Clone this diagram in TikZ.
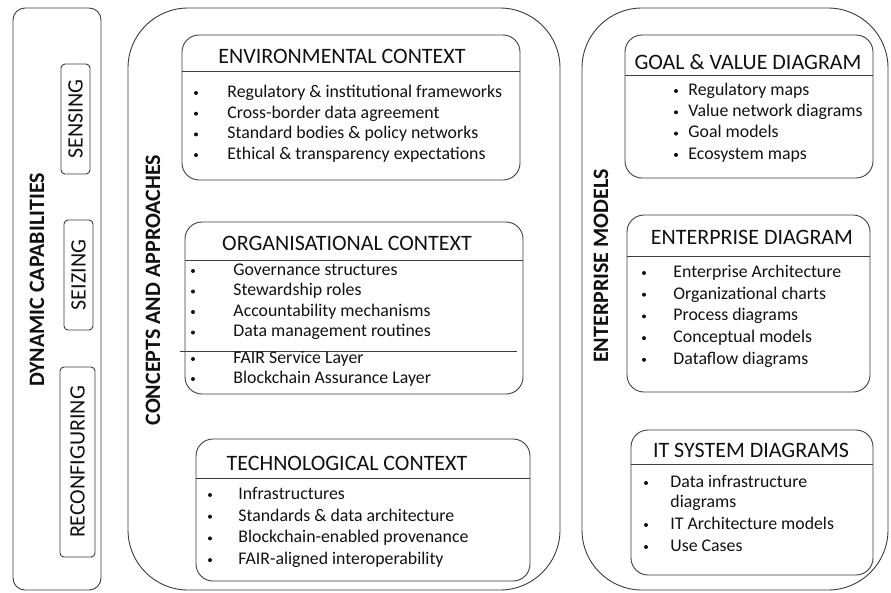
\documentclass[tikz,border=0pt]{standalone}
\usepackage{fontspec}
\setmainfont{Carlito}
\usetikzlibrary{positioning, calc}
\definecolor{cline}{HTML}{3C3C3C}
\definecolor{ctext}{HTML}{111111}
\tikzset{
  every picture/.style={line width=0.9pt},
  outerbox/.style={draw=cline, rounded corners=#1, inner sep=0pt},
  ctxbox/.style={draw=cline, rounded corners=17pt, inner sep=0pt},
  capbox/.style={draw=cline, rounded corners=4pt, inner sep=0pt},
  head/.style={font=\fontsize{22}{26}\selectfont, text=ctext, inner sep=0pt},
  vlabel/.style={font=\fontsize{22}{26}\selectfont\bfseries, text=ctext, rotate=90, inner sep=0pt},
  caplabel/.style={font=\fontsize{22}{26}\selectfont, text=ctext, rotate=90, inner sep=0pt},
  item/.style={font=\fontsize{17.8}{20.7}\selectfont, text=ctext, anchor=mid west, inner sep=0pt},
  dot/.style={circle, fill=ctext, inner sep=0pt, minimum size=4pt},
  divider/.style={draw=cline, line width=0.9pt},
}

\begin{document}
\begin{tikzpicture}[x=1pt, y=-1pt]
  \useasboundingbox (0,0) rectangle (891,592);

  % three columns
  \node[outerbox=12pt, minimum width=88pt, minimum height=582pt] (dyn) at (57,299) {};
  \node[outerbox=60pt, minimum width=432pt, minimum height=582pt] (cap) at (344,299) {};
  \node[outerbox=60pt, minimum width=306pt, minimum height=582pt] (ent) at (735,299) {};

  \node[vlabel] (dyn-t) at (37,280) {DYNAMIC CAPABILITIES};
  \node[vlabel] (cap-t) at (153,290) {CONCEPTS AND APPROACHES};
  \node[vlabel] (ent-t) at (601,266) {ENTERPRISE MODELS};

  % capability steps
  \node[capbox, minimum width=29pt, minimum height=110pt] (sense) at (75.5,119) {};
  \node[caplabel] at (sense) {SENSING};
  \node[capbox, minimum width=29pt, minimum height=110pt] (seize) at (78.5,275) {};
  \node[caplabel] at (seize) {SEIZING};
  \node[capbox, minimum width=35pt, minimum height=190pt] (reconf) at (77.5,462) {};
  \node[caplabel] at (reconf) {RECONFIGURING};

  % context boxes
  \node[ctxbox, minimum width=338pt, minimum height=145pt] (env) at (351,107.5) {};
  \draw[divider] ([yshift=-37pt]env.north west) -- ([yshift=-37pt]env.north east);
  \node[head] (env-h) at (342,56) {ENVIRONMENTAL CONTEXT};
  \foreach \t [count=\i from 0] in {Regulatory \& institutional frameworks, Cross-border data agreement, Standard bodies \& policy networks, Ethical \& transparency expectations} {
    \node[dot] (env-b\i) at (196,93+\i*20.7) {};
    \node[item] (env-i\i) at (227,95+\i*20.7) {\t};
  }

  \node[ctxbox, minimum width=338pt, minimum height=172pt] (org) at (354,308) {};
  \draw[divider] ([yshift=-39pt]org.north west) -- ([yshift=-39pt]org.north east);
  \draw[divider] ([xshift=-5pt, yshift=-130pt]org.north west) -- ([xshift=-6pt, yshift=-130pt]org.north east);
  \node[head] (org-h) at (347,243) {ORGANISATIONAL CONTEXT};
  \foreach \t/\y [count=\i] in {Governance structures/273, Stewardship roles/293.5, Accountability mechanisms/314, Data management routines/334.5, FAIR Service Layer/361, Blockchain Assurance Layer/381} {
    \node[dot] (org-b\i) at (193,\y-2) {};
    \node[item] (org-i\i) at (233,\y) {\t};
  }

  \node[ctxbox, minimum width=334pt, minimum height=142pt] (tech) at (363,510) {};
  \draw[divider] ([yshift=-40pt]tech.north west) -- ([yshift=-40pt]tech.north east);
  \node[head] (tech-h) at (347,463) {TECHNOLOGICAL CONTEXT};
  \foreach \t [count=\i from 0] in {Infrastructures, Standards \& data architecture, Blockchain-enabled provenance, FAIR-aligned interoperability} {
    \node[dot] (tech-b\i) at (210,495+\i*21.7) {};
    \node[item] (tech-i\i) at (238,497+\i*21.7) {\t};
  }

  % model boxes
  \node[ctxbox, minimum width=248pt, minimum height=143pt] (goal) at (749,106.5) {};
  \draw[divider] ([yshift=-41pt]goal.north west) -- ([yshift=-41pt]goal.north east);
  \node[head] (goal-h) at (748,62) {GOAL \& VALUE DIAGRAM};
  \foreach \t [count=\i from 0] in {Regulatory maps, Value network diagrams, Goal models, Ecosystem maps} {
    \node[dot] (goal-b\i) at (676,91+\i*21.3) {};
    \node[item] (goal-i\i) at (688,93+\i*21.3) {\t};
  }

  \node[ctxbox, minimum width=243pt, minimum height=177pt] (edia) at (748.5,303.5) {};
  \draw[divider] ([yshift=-42pt]edia.north west) -- ([yshift=-42pt]edia.north east);
  \node[head] (edia-h) at (752,237) {ENTERPRISE DIAGRAM};
  \foreach \t [count=\i from 0] in {Enterprise Architecture, Organizational charts, Process diagrams, Conceptual models, Dataflow diagrams} {
    \node[dot] (edia-b\i) at (644,273+\i*21.7) {};
    \node[item] (edia-i\i) at (673,275+\i*21.7) {\t};
  }

  \node[ctxbox, minimum width=242pt, minimum height=145pt] (itsys) at (752,502.5) {};
  \draw[divider] ([yshift=-35pt]itsys.north west) -- ([yshift=-35pt]itsys.north east);
  \node[head] (itsys-h) at (751,450) {IT SYSTEM DIAGRAMS};
  \foreach \t/\y/\b [count=\i] in {Data infrastructure/485/1, diagrams/505/0, IT Architecture models/527/1, Use Cases/549/1} {
    \ifnum\b=1 \node[dot] (itsys-b\i) at (646,\y-2) {}; \fi
    \node[item] (itsys-i\i) at (670,\y) {\t};
  }
\end{tikzpicture}
\end{document}
